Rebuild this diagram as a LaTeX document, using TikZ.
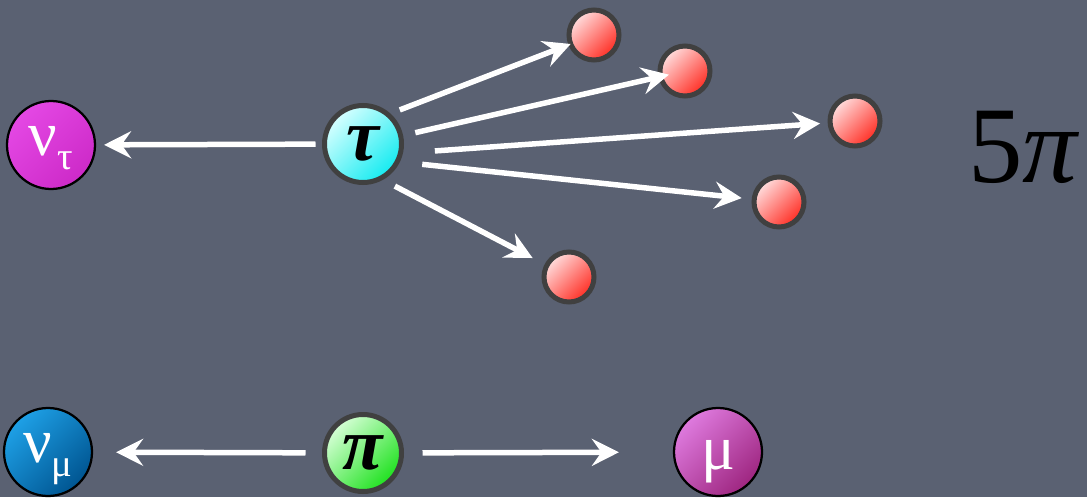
\documentclass[tikz,border=0pt]{standalone}
\usepackage{fontspec}
\usepackage{tikz}
\usetikzlibrary{arrows.meta}
\newfontfamily\greekserif{Liberation Serif}
\definecolor{slate}{RGB}{90,97,114}
\definecolor{ringgrey}{RGB}{64,64,64}
\definecolor{taulight}{RGB}{215,255,255}
\definecolor{taudark}{RGB}{20,235,240}
\definecolor{pilight}{RGB}{215,255,215}
\definecolor{pidark}{RGB}{30,225,30}
\definecolor{balllight}{RGB}{255,222,222}
\definecolor{balldark}{RGB}{255,45,35}
\definecolor{nutaulight}{RGB}{228,72,228}
\definecolor{nutaudark}{RGB}{205,42,200}
\definecolor{numulight}{RGB}{30,160,230}
\definecolor{numudark}{RGB}{0,85,145}
\definecolor{mulight}{RGB}{222,122,222}
\definecolor{mudark}{RGB}{158,38,128}
\tikzset{
  hadron/.style={circle,draw=ringgrey,line width=1mm,inner sep=0pt,
    minimum size=15.4mm,font=\greekserif\bfseries\itshape\fontsize{42}{42}\selectfont},
  pionball/.style={circle,draw=ringgrey,line width=1mm,inner sep=0pt,
    minimum size=10mm,left color=balllight,right color=balldark,shading angle=45},
  lepton/.style={circle,draw=black,line width=0.45mm,inner sep=0pt,
    minimum size=17.6mm,text=white,font=\greekserif\fontsize{36}{36}\selectfont},
  flow/.style={-{Stealth[length=5.4mm,width=5.4mm,inset=1.9mm]},line width=1.1mm,draw=white}
}
\newcommand{\lowsub}[1]{\raisebox{-8pt}{\fontsize{22}{22}\selectfont #1}}

\begin{document}
\begin{tikzpicture}[x=0.2mm,y=-0.2mm]
  \fill[slate] (0,0) rectangle (1087,497);
  \node[lepton,left color=nutaulight,right color=nutaudark,shading angle=45] (nutau) at (51,145) {\smash{\raisebox{-6pt}{ν\lowsub{τ}}}};
  \node[hadron,left color=taulight,right color=taudark,shading angle=45] (tau) at (363,144) {τ};
  \node[pionball] (b1) at (594,35) {};
  \node[pionball] (b2) at (685,71) {};
  \node[pionball] (b3) at (855,121) {};
  \node[pionball] (b4) at (779,202) {};
  \node[pionball] (b5) at (569,277) {};
  \node[anchor=base west,inner sep=0pt,font=\greekserif\fontsize{62}{64}\selectfont] (fivepi) at (968,182) {5\textit{π}};
  \node[lepton,left color=numulight,right color=numudark,shading angle=45] (numu) at (48,452) {\smash{\raisebox{-6pt}{ν\lowsub{μ}}}};
  \node[hadron,left color=pilight,right color=pidark,shading angle=45] (pi) at (363,453) {π};
  \node[lepton,left color=mulight,right color=mudark,shading angle=45] (mu) at (718,452) {\smash{\raisebox{-10pt}{μ}}};
  \draw[flow,shorten <=1.3mm,shorten >=1.6mm] (tau) -- (nutau);
  \draw[flow,shorten <=2mm,shorten >=-0.5mm] (tau.48) -- (b1);
  \draw[flow,shorten <=2.5mm,shorten >=-2.2mm] (tau.12) -- (b2);
  \draw[flow,shorten <=6.4mm,shorten >=1.5mm] (tau.-13) -- (b3);
  \draw[flow,shorten <=4.5mm,shorten >=2mm] (tau.-26) -- (b4);
  \draw[flow,shorten <=2.7mm,shorten >=2.7mm] (tau.-61) -- (b5);
  \draw[flow,shorten <=3.3mm,shorten >=4.6mm] (pi) -- (numu);
  \draw[flow,shorten <=3.7mm,shorten >=10.8mm] (pi) -- (mu);
\end{tikzpicture}
\end{document}
